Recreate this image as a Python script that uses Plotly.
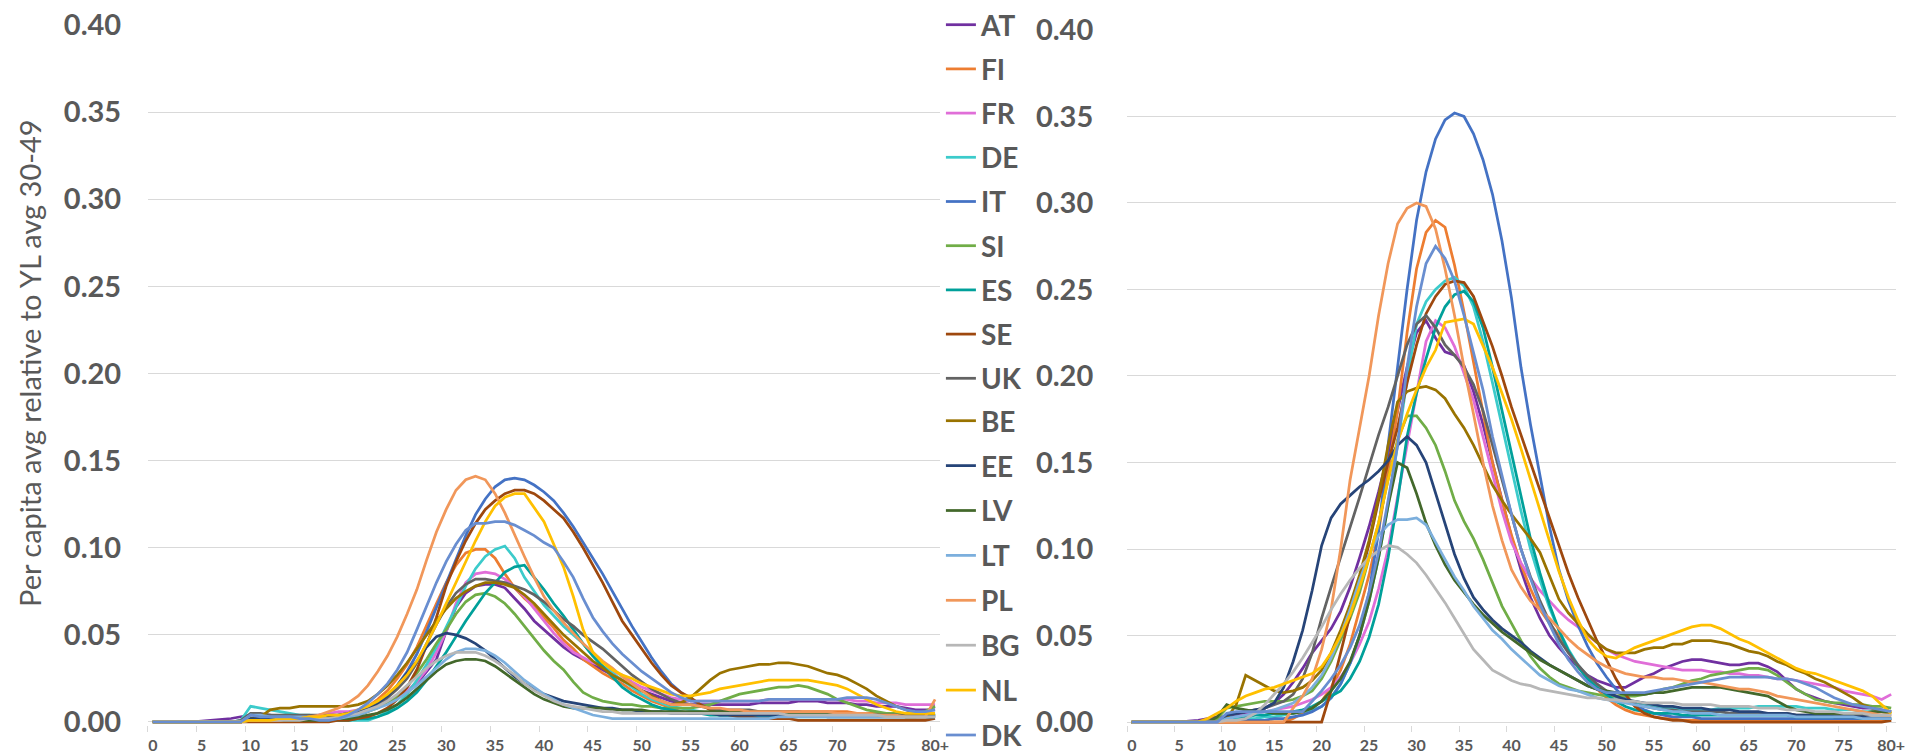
import plotly.graph_objects as go

# Age categories (single years, last one is open-ended "80+")
AGES = list(range(81))
TICK_AGES = [0, 5, 10, 15, 20, 25, 30, 35, 40, 45, 50, 55, 60, 65, 70, 75, 80]
TICK_TEXT = ["0", "5", "10", "15", "20", "25", "30", "35", "40", "45", "50",
             "55", "60", "65", "70", "75", "80+"]
Y_TICKS = [0.0, 0.05, 0.10, 0.15, 0.20, 0.25, 0.30, 0.35, 0.40]

COUNTRIES = ["AT", "FI", "FR", "DE", "IT", "SI", "ES", "SE", "UK",
             "BE", "EE", "LV", "LT", "PL", "BG", "NL", "DK"]
# the legend column is split in two blocks so it never needs scrolling
LEGEND_BLOCK = {c: ("legend" if i < 9 else "legend2") for i, c in enumerate(COUNTRIES)}

COLORS = {
    "AT": "#7030A0", "FI": "#ED7D31", "FR": "#E06ED8", "DE": "#3CCBCB",
    "IT": "#4472C4", "SI": "#70AD47", "ES": "#00A09A", "SE": "#9E480E",
    "UK": "#636363", "BE": "#997300", "EE": "#264478", "LV": "#43682B",
    "LT": "#7CAFDD", "PL": "#F1975A", "BG": "#B7B7B7", "NL": "#FFC000",
    "DK": "#698ED0",
}

# ---- left panel: per capita values by age ----
AT_L = [0, 0, 0, 0, 0, 0.0005, 0.001, 0.0015, 0.002, 0.003,
        0.004, 0.004, 0.004, 0.003, 0.003, 0.003, 0.003, 0.003, 0.003, 0.003,
        0.003, 0.004, 0.006, 0.009, 0.012, 0.015, 0.018, 0.022, 0.029, 0.036,
        0.052, 0.066, 0.074, 0.078, 0.079, 0.079, 0.077, 0.071, 0.065, 0.058,
        0.053, 0.048, 0.043, 0.039, 0.036, 0.033, 0.030, 0.027, 0.024, 0.021,
        0.018, 0.016, 0.014, 0.012, 0.011, 0.010, 0.010, 0.010, 0.010, 0.010,
        0.010, 0.010, 0.011, 0.011, 0.011, 0.011, 0.012, 0.012, 0.012, 0.011,
        0.011, 0.011, 0.010, 0.010, 0.009, 0.009, 0.009, 0.008, 0.007, 0.007, 0.007]
FI_L = [0, 0, 0, 0, 0, 0, 0, 0, 0, 0,
        0.002, 0.002, 0.002, 0.002, 0.002, 0.002, 0.002, 0.002, 0.002, 0.003,
        0.004, 0.006, 0.009, 0.013, 0.018, 0.025, 0.033, 0.043, 0.055, 0.068,
        0.080, 0.090, 0.097, 0.099, 0.099, 0.094, 0.085, 0.077, 0.071, 0.066,
        0.060, 0.054, 0.047, 0.042, 0.036, 0.032, 0.028, 0.025, 0.022, 0.018,
        0.015, 0.012, 0.010, 0.008, 0.006, 0.005, 0.005, 0.005, 0.005, 0.005,
        0.005, 0.005, 0.005, 0.006, 0.006, 0.006, 0.006, 0.006, 0.006, 0.006,
        0.006, 0.006, 0.005, 0.005, 0.005, 0.004, 0.004, 0.003, 0.003, 0.003, 0.003]
FR_L = [0, 0, 0, 0, 0, 0, 0, 0, 0, 0,
        0.002, 0.002, 0.002, 0.002, 0.002, 0.002, 0.003, 0.004, 0.005, 0.006,
        0.006, 0.007, 0.008, 0.010, 0.012, 0.014, 0.018, 0.023, 0.030, 0.040,
        0.052, 0.068, 0.080, 0.085, 0.086, 0.085, 0.082, 0.077, 0.072, 0.065,
        0.058, 0.051, 0.045, 0.040, 0.037, 0.034, 0.032, 0.029, 0.027, 0.023,
        0.020, 0.018, 0.016, 0.014, 0.013, 0.012, 0.012, 0.012, 0.012, 0.012,
        0.012, 0.012, 0.012, 0.013, 0.013, 0.013, 0.013, 0.013, 0.013, 0.013,
        0.013, 0.013, 0.012, 0.012, 0.011, 0.011, 0.011, 0.010, 0.010, 0.010, 0.010]
DE_L = [0, 0, 0, 0, 0, 0, 0, 0, 0, 0.001,
        0.009, 0.008, 0.007, 0.006, 0.005, 0.004, 0.004, 0.003, 0.002, 0.001,
        0.001, 0.001, 0.001, 0.003, 0.006, 0.010, 0.016, 0.024, 0.033, 0.043,
        0.055, 0.066, 0.078, 0.088, 0.095, 0.099, 0.101, 0.094, 0.083, 0.075,
        0.067, 0.061, 0.055, 0.050, 0.045, 0.038, 0.032, 0.028, 0.024, 0.020,
        0.016, 0.013, 0.011, 0.009, 0.008, 0.007, 0.006, 0.005, 0.004, 0.004,
        0.003, 0.003, 0.003, 0.003, 0.003, 0.003, 0.003, 0.003, 0.003, 0.003,
        0.003, 0.003, 0.003, 0.003, 0.003, 0.003, 0.003, 0.003, 0.003, 0.004, 0.005]
IT_L = [0, 0, 0, 0, 0, 0, 0, 0, 0, 0,
        0.002, 0.002, 0.002, 0.002, 0.002, 0.002, 0.002, 0.002, 0.003, 0.004,
        0.005, 0.006, 0.008, 0.011, 0.015, 0.021, 0.029, 0.039, 0.052, 0.066,
        0.080, 0.094, 0.107, 0.119, 0.128, 0.135, 0.139, 0.140, 0.139, 0.136,
        0.132, 0.127, 0.120, 0.112, 0.103, 0.094, 0.085, 0.075, 0.065, 0.055,
        0.046, 0.037, 0.029, 0.022, 0.017, 0.013, 0.010, 0.008, 0.006, 0.005,
        0.004, 0.004, 0.004, 0.004, 0.004, 0.004, 0.004, 0.004, 0.004, 0.004,
        0.004, 0.004, 0.004, 0.004, 0.004, 0.004, 0.004, 0.004, 0.004, 0.004, 0.004]
SI_L = [0, 0, 0, 0, 0, 0, 0, 0, 0, 0,
        0.002, 0.002, 0.002, 0.002, 0.002, 0.002, 0.002, 0.002, 0.002, 0.002,
        0.003, 0.004, 0.006, 0.008, 0.011, 0.015, 0.020, 0.028, 0.036, 0.045,
        0.053, 0.062, 0.069, 0.073, 0.074, 0.072, 0.068, 0.062, 0.055, 0.048,
        0.041, 0.035, 0.030, 0.023, 0.017, 0.014, 0.012, 0.011, 0.010, 0.010,
        0.009, 0.009, 0.008, 0.008, 0.008, 0.008, 0.009, 0.010, 0.012, 0.014,
        0.016, 0.017, 0.018, 0.019, 0.020, 0.020, 0.021, 0.020, 0.018, 0.016,
        0.013, 0.011, 0.009, 0.007, 0.006, 0.005, 0.005, 0.005, 0.005, 0.006, 0.009]
ES_L = [0, 0, 0, 0, 0, 0, 0, 0, 0, 0,
        0.001, 0.001, 0.001, 0.001, 0.001, 0.001, 0.001, 0.001, 0.001, 0.001,
        0.001, 0.002, 0.002, 0.003, 0.005, 0.008, 0.012, 0.017, 0.024, 0.032,
        0.040, 0.049, 0.058, 0.066, 0.074, 0.080, 0.086, 0.089, 0.090, 0.083,
        0.076, 0.068, 0.061, 0.053, 0.045, 0.038, 0.032, 0.026, 0.020, 0.016,
        0.013, 0.010, 0.008, 0.007, 0.006, 0.005, 0.005, 0.004, 0.004, 0.004,
        0.004, 0.004, 0.004, 0.004, 0.004, 0.004, 0.004, 0.004, 0.004, 0.004,
        0.004, 0.004, 0.004, 0.004, 0.004, 0.004, 0.004, 0.004, 0.004, 0.004, 0.004]
SE_L = [0, 0, 0, 0, 0, 0, 0, 0, 0, 0,
        0, 0, 0, 0, 0, 0, 0, 0, 0, 0.001,
        0.001, 0.002, 0.003, 0.005, 0.008, 0.013, 0.020, 0.030, 0.044, 0.060,
        0.078, 0.092, 0.104, 0.114, 0.122, 0.127, 0.131, 0.133, 0.133, 0.131,
        0.127, 0.122, 0.117, 0.109, 0.100, 0.090, 0.080, 0.069, 0.058, 0.050,
        0.042, 0.034, 0.027, 0.021, 0.017, 0.014, 0.010, 0.007, 0.005, 0.004,
        0.003, 0.003, 0.002, 0.002, 0.002, 0.002, 0.001, 0.001, 0.001, 0.001,
        0.001, 0.001, 0.001, 0.001, 0.001, 0.001, 0.001, 0.001, 0.001, 0.001, 0.002]
UK_L = [0, 0, 0, 0, 0, 0, 0, 0, 0, 0.001,
        0.005, 0.005, 0.004, 0.004, 0.004, 0.004, 0.004, 0.004, 0.004, 0.004,
        0.004, 0.005, 0.007, 0.010, 0.014, 0.019, 0.025, 0.034, 0.045, 0.056,
        0.066, 0.074, 0.079, 0.082, 0.082, 0.081, 0.080, 0.078, 0.076, 0.073,
        0.069, 0.064, 0.059, 0.055, 0.050, 0.046, 0.042, 0.037, 0.032, 0.027,
        0.023, 0.019, 0.016, 0.013, 0.011, 0.010, 0.009, 0.008, 0.007, 0.007,
        0.007, 0.007, 0.006, 0.006, 0.006, 0.006, 0.006, 0.005, 0.005, 0.005,
        0.005, 0.005, 0.004, 0.004, 0.004, 0.004, 0.004, 0.004, 0.004, 0.004, 0.004]
BE_L = [0, 0, 0, 0, 0, 0, 0, 0, 0, 0,
        0.002, 0.003, 0.007, 0.008, 0.008, 0.009, 0.009, 0.009, 0.009, 0.009,
        0.009, 0.010, 0.012, 0.016, 0.021, 0.027, 0.034, 0.042, 0.050, 0.058,
        0.065, 0.071, 0.075, 0.078, 0.080, 0.080, 0.079, 0.077, 0.073, 0.068,
        0.062, 0.056, 0.050, 0.045, 0.040, 0.035, 0.031, 0.027, 0.024, 0.021,
        0.018, 0.015, 0.012, 0.010, 0.011, 0.014, 0.019, 0.024, 0.028, 0.030,
        0.031, 0.032, 0.033, 0.033, 0.034, 0.034, 0.033, 0.032, 0.030, 0.028,
        0.027, 0.025, 0.022, 0.019, 0.015, 0.012, 0.009, 0.007, 0.005, 0.004, 0.004]
EE_L = [0, 0, 0, 0, 0, 0, 0, 0, 0, 0,
        0.002, 0.002, 0.002, 0.002, 0.002, 0.002, 0.002, 0.002, 0.003, 0.004,
        0.005, 0.006, 0.008, 0.011, 0.015, 0.021, 0.028, 0.035, 0.043, 0.049,
        0.051, 0.050, 0.048, 0.045, 0.041, 0.036, 0.031, 0.026, 0.022, 0.019,
        0.016, 0.014, 0.012, 0.011, 0.010, 0.009, 0.008, 0.008, 0.007, 0.007,
        0.006, 0.006, 0.006, 0.005, 0.005, 0.005, 0.005, 0.005, 0.004, 0.004,
        0.004, 0.004, 0.004, 0.004, 0.004, 0.004, 0.004, 0.004, 0.004, 0.003,
        0.003, 0.003, 0.003, 0.003, 0.003, 0.003, 0.003, 0.003, 0.003, 0.003, 0.003]
LV_L = [0, 0, 0, 0, 0, 0, 0, 0, 0, 0,
        0.001, 0.001, 0.001, 0.001, 0.001, 0.001, 0.001, 0.001, 0.001, 0.002,
        0.002, 0.003, 0.004, 0.005, 0.007, 0.010, 0.014, 0.019, 0.024, 0.029,
        0.033, 0.035, 0.036, 0.036, 0.035, 0.032, 0.028, 0.024, 0.020, 0.016,
        0.013, 0.011, 0.009, 0.008, 0.008, 0.008, 0.008, 0.007, 0.007, 0.007,
        0.007, 0.006, 0.006, 0.006, 0.006, 0.006, 0.006, 0.006, 0.006, 0.006,
        0.006, 0.006, 0.006, 0.006, 0.006, 0.005, 0.005, 0.005, 0.005, 0.005,
        0.005, 0.005, 0.005, 0.004, 0.004, 0.004, 0.004, 0.003, 0.003, 0.003, 0.003]
LT_L = [0, 0, 0, 0, 0, 0, 0, 0, 0, 0,
        0.004, 0.004, 0.003, 0.003, 0.003, 0.003, 0.003, 0.002, 0.002, 0.002,
        0.003, 0.004, 0.006, 0.008, 0.010, 0.013, 0.017, 0.021, 0.026, 0.031,
        0.036, 0.040, 0.042, 0.042, 0.041, 0.038, 0.034, 0.029, 0.024, 0.020,
        0.016, 0.013, 0.010, 0.008, 0.006, 0.004, 0.003, 0.002, 0.002, 0.002,
        0.002, 0.002, 0.002, 0.002, 0.002, 0.002, 0.002, 0.002, 0.002, 0.002,
        0.002, 0.002, 0.002, 0.002, 0.003, 0.003, 0.003, 0.003, 0.003, 0.003,
        0.003, 0.003, 0.003, 0.003, 0.003, 0.003, 0.003, 0.003, 0.003, 0.003, 0.003]
PL_L = [0, 0, 0, 0, 0, 0, 0, 0, 0, 0,
        0.001, 0.001, 0.001, 0.001, 0.002, 0.002, 0.003, 0.004, 0.006, 0.008,
        0.011, 0.015, 0.021, 0.029, 0.038, 0.049, 0.062, 0.076, 0.093, 0.109,
        0.122, 0.133, 0.139, 0.141, 0.139, 0.131, 0.120, 0.107, 0.095, 0.083,
        0.072, 0.064, 0.057, 0.051, 0.045, 0.040, 0.035, 0.031, 0.026, 0.022,
        0.018, 0.014, 0.012, 0.010, 0.010, 0.010, 0.009, 0.008, 0.008, 0.007,
        0.007, 0.006, 0.006, 0.006, 0.006, 0.006, 0.006, 0.006, 0.006, 0.006,
        0.005, 0.005, 0.005, 0.005, 0.004, 0.004, 0.004, 0.003, 0.003, 0.003, 0.013]
BG_L = [0, 0, 0, 0, 0, 0, 0, 0, 0, 0,
        0.001, 0.001, 0.001, 0.001, 0.001, 0.001, 0.002, 0.002, 0.002, 0.003,
        0.004, 0.005, 0.007, 0.009, 0.012, 0.016, 0.021, 0.026, 0.031, 0.035,
        0.038, 0.040, 0.040, 0.040, 0.038, 0.035, 0.031, 0.027, 0.022, 0.018,
        0.015, 0.012, 0.010, 0.009, 0.008, 0.007, 0.006, 0.006, 0.005, 0.005,
        0.005, 0.005, 0.005, 0.005, 0.005, 0.005, 0.005, 0.005, 0.005, 0.005,
        0.005, 0.005, 0.005, 0.005, 0.005, 0.004, 0.004, 0.004, 0.004, 0.004,
        0.004, 0.004, 0.004, 0.004, 0.004, 0.003, 0.003, 0.003, 0.003, 0.003, 0.003]
NL_L = [0, 0, 0, 0, 0, 0, 0, 0, 0, 0,
        0.001, 0.001, 0.001, 0.002, 0.002, 0.002, 0.003, 0.003, 0.004, 0.004,
        0.005, 0.007, 0.009, 0.012, 0.016, 0.021, 0.027, 0.035, 0.045, 0.056,
        0.068, 0.080, 0.092, 0.104, 0.115, 0.124, 0.129, 0.131, 0.131, 0.123,
        0.115, 0.102, 0.089, 0.072, 0.053, 0.040, 0.034, 0.030, 0.027, 0.025,
        0.022, 0.020, 0.018, 0.016, 0.015, 0.015, 0.016, 0.017, 0.019, 0.020,
        0.021, 0.022, 0.023, 0.024, 0.024, 0.024, 0.024, 0.024, 0.023, 0.022,
        0.021, 0.019, 0.016, 0.013, 0.010, 0.008, 0.006, 0.005, 0.005, 0.005, 0.005]
DK_L = [0, 0, 0, 0, 0, 0, 0, 0, 0, 0,
        0.004, 0.003, 0.003, 0.003, 0.003, 0.002, 0.002, 0.001, 0.001, 0.002,
        0.004, 0.007, 0.011, 0.016, 0.022, 0.030, 0.040, 0.053, 0.067, 0.080,
        0.092, 0.102, 0.110, 0.114, 0.114, 0.115, 0.115, 0.113, 0.110, 0.107,
        0.103, 0.100, 0.092, 0.083, 0.071, 0.060, 0.052, 0.045, 0.039, 0.034,
        0.029, 0.025, 0.021, 0.017, 0.014, 0.012, 0.012, 0.012, 0.012, 0.012,
        0.012, 0.012, 0.012, 0.013, 0.013, 0.013, 0.013, 0.013, 0.013, 0.013,
        0.013, 0.014, 0.014, 0.014, 0.013, 0.011, 0.009, 0.007, 0.006, 0.006, 0.007]

# ---- right panel: per capita values by age ----
AT_R = [0, 0, 0, 0, 0, 0, 0.0005, 0.001, 0.002, 0.003,
        0.003, 0.004, 0.005, 0.006, 0.008, 0.011, 0.016, 0.023, 0.031, 0.040,
        0.047, 0.054, 0.064, 0.078, 0.095, 0.113, 0.133, 0.155, 0.180, 0.205,
        0.225, 0.232, 0.222, 0.214, 0.212, 0.206, 0.191, 0.172, 0.150, 0.128,
        0.107, 0.088, 0.072, 0.060, 0.050, 0.043, 0.037, 0.032, 0.027, 0.024,
        0.022, 0.020, 0.020, 0.023, 0.026, 0.028, 0.031, 0.033, 0.035, 0.036,
        0.036, 0.035, 0.034, 0.033, 0.033, 0.034, 0.034, 0.032, 0.029, 0.024,
        0.019, 0.016, 0.014, 0.012, 0.011, 0.010, 0.009, 0.008, 0.008, 0.007, 0.006]
FI_R = [0, 0, 0, 0, 0, 0, 0, 0, 0, 0,
        0, 0, 0, 0, 0, 0, 0, 0.002, 0.005, 0.008,
        0.012, 0.020, 0.030, 0.045, 0.065, 0.085, 0.110, 0.145, 0.180, 0.225,
        0.262, 0.283, 0.290, 0.286, 0.264, 0.237, 0.208, 0.178, 0.150, 0.128,
        0.108, 0.091, 0.077, 0.065, 0.057, 0.050, 0.041, 0.032, 0.025, 0.019,
        0.014, 0.010, 0.007, 0.005, 0.004, 0.003, 0.002, 0.002, 0.001, 0.001,
        0.001, 0.001, 0.001, 0.001, 0.001, 0.001, 0.001, 0.001, 0.001, 0.001,
        0.001, 0.001, 0.001, 0.001, 0.001, 0.001, 0.001, 0.001, 0.001, 0.001, 0.001]
FR_R = [0, 0, 0, 0, 0, 0, 0, 0, 0, 0,
        0.002, 0.003, 0.004, 0.005, 0.006, 0.007, 0.008, 0.009, 0.011, 0.013,
        0.016, 0.020, 0.026, 0.034, 0.045, 0.058, 0.077, 0.100, 0.130, 0.160,
        0.192, 0.220, 0.232, 0.228, 0.217, 0.202, 0.186, 0.165, 0.143, 0.122,
        0.104, 0.092, 0.083, 0.076, 0.070, 0.064, 0.059, 0.055, 0.050, 0.046,
        0.042, 0.039, 0.037, 0.035, 0.034, 0.033, 0.032, 0.031, 0.030, 0.030,
        0.030, 0.029, 0.029, 0.028, 0.028, 0.027, 0.027, 0.026, 0.025, 0.025,
        0.024, 0.023, 0.022, 0.021, 0.020, 0.018, 0.017, 0.016, 0.015, 0.013, 0.016]
DE_R = [0, 0, 0, 0, 0, 0, 0, 0, 0, 0,
        0.001, 0.002, 0.002, 0.002, 0.003, 0.003, 0.004, 0.005, 0.006, 0.007,
        0.009, 0.014, 0.022, 0.034, 0.050, 0.070, 0.095, 0.125, 0.160, 0.198,
        0.230, 0.243, 0.250, 0.255, 0.257, 0.252, 0.240, 0.220, 0.196, 0.171,
        0.146, 0.122, 0.100, 0.082, 0.066, 0.053, 0.042, 0.033, 0.026, 0.021,
        0.017, 0.014, 0.012, 0.011, 0.010, 0.009, 0.008, 0.008, 0.007, 0.007,
        0.007, 0.007, 0.008, 0.008, 0.008, 0.008, 0.009, 0.009, 0.009, 0.009,
        0.009, 0.008, 0.008, 0.008, 0.007, 0.007, 0.007, 0.006, 0.006, 0.006, 0.005]
IT_R = [0, 0, 0, 0, 0, 0, 0, 0, 0, 0,
        0.001, 0.001, 0.001, 0.001, 0.001, 0.002, 0.002, 0.003, 0.004, 0.006,
        0.009, 0.014, 0.022, 0.034, 0.050, 0.075, 0.110, 0.160, 0.205, 0.250,
        0.290, 0.318, 0.337, 0.348, 0.352, 0.350, 0.340, 0.325, 0.305, 0.278,
        0.245, 0.205, 0.172, 0.142, 0.113, 0.088, 0.070, 0.056, 0.044, 0.034,
        0.026, 0.019, 0.014, 0.010, 0.007, 0.005, 0.004, 0.003, 0.003, 0.003,
        0.002, 0.002, 0.002, 0.002, 0.002, 0.002, 0.002, 0.002, 0.002, 0.002,
        0.002, 0.002, 0.002, 0.002, 0.002, 0.002, 0.002, 0.002, 0.002, 0.002, 0.002]
SI_R = [0, 0, 0, 0, 0, 0, 0, 0, 0, 0.002,
        0.008, 0.009, 0.010, 0.011, 0.012, 0.012, 0.012, 0.013, 0.015, 0.018,
        0.025, 0.035, 0.047, 0.060, 0.075, 0.095, 0.115, 0.140, 0.163, 0.177,
        0.177, 0.170, 0.160, 0.145, 0.128, 0.116, 0.106, 0.094, 0.080, 0.067,
        0.057, 0.047, 0.038, 0.031, 0.026, 0.022, 0.020, 0.018, 0.017, 0.016,
        0.015, 0.015, 0.015, 0.015, 0.016, 0.017, 0.019, 0.020, 0.022, 0.024,
        0.025, 0.027, 0.028, 0.029, 0.030, 0.031, 0.031, 0.030, 0.027, 0.023,
        0.019, 0.016, 0.013, 0.012, 0.011, 0.011, 0.010, 0.010, 0.009, 0.009, 0.008]
ES_R = [0, 0, 0, 0, 0, 0, 0, 0, 0, 0,
        0.002, 0.003, 0.003, 0.004, 0.004, 0.005, 0.005, 0.006, 0.007, 0.009,
        0.012, 0.015, 0.018, 0.025, 0.035, 0.049, 0.068, 0.095, 0.128, 0.165,
        0.190, 0.210, 0.228, 0.240, 0.247, 0.249, 0.243, 0.228, 0.205, 0.180,
        0.155, 0.130, 0.106, 0.086, 0.068, 0.053, 0.041, 0.032, 0.025, 0.020,
        0.016, 0.012, 0.009, 0.007, 0.006, 0.005, 0.005, 0.005, 0.004, 0.004,
        0.004, 0.004, 0.004, 0.004, 0.004, 0.004, 0.004, 0.004, 0.004, 0.004,
        0.003, 0.003, 0.003, 0.003, 0.003, 0.003, 0.003, 0.002, 0.002, 0.002, 0.002]
SE_R = [0, 0, 0, 0, 0, 0, 0, 0, 0, 0,
        0, 0, 0, 0, 0, 0, 0, 0, 0, 0,
        0, 0.018, 0.040, 0.062, 0.082, 0.103, 0.128, 0.150, 0.170, 0.196,
        0.218, 0.236, 0.246, 0.253, 0.255, 0.254, 0.246, 0.232, 0.217, 0.200,
        0.182, 0.166, 0.150, 0.133, 0.117, 0.101, 0.086, 0.072, 0.059, 0.047,
        0.036, 0.025, 0.016, 0.009, 0.005, 0.003, 0.002, 0.001, 0.001, 0,
        0, 0, 0, 0, 0, 0, 0, 0, 0, 0,
        0, 0, 0, 0, 0, 0, 0, 0, 0, 0, 0.001]
UK_R = [0, 0, 0, 0, 0, 0, 0, 0, 0, 0,
        0.004, 0.005, 0.006, 0.007, 0.008, 0.010, 0.012, 0.016, 0.025, 0.040,
        0.060, 0.078, 0.095, 0.112, 0.130, 0.148, 0.166, 0.182, 0.200, 0.218,
        0.230, 0.235, 0.228, 0.218, 0.212, 0.205, 0.195, 0.180, 0.160, 0.140,
        0.120, 0.100, 0.084, 0.070, 0.058, 0.048, 0.040, 0.033, 0.027, 0.022,
        0.018, 0.015, 0.012, 0.010, 0.009, 0.008, 0.007, 0.007, 0.006, 0.006,
        0.006, 0.006, 0.006, 0.005, 0.005, 0.005, 0.005, 0.005, 0.005, 0.005,
        0.004, 0.004, 0.004, 0.004, 0.004, 0.004, 0.004, 0.004, 0.004, 0.004, 0.004]
BE_R = [0, 0, 0, 0, 0, 0, 0, 0, 0, 0,
        0.002, 0.010, 0.027, 0.024, 0.021, 0.018, 0.017, 0.018, 0.020, 0.024,
        0.030, 0.040, 0.053, 0.068, 0.085, 0.105, 0.130, 0.160, 0.185, 0.191,
        0.193, 0.194, 0.192, 0.187, 0.178, 0.170, 0.160, 0.148, 0.137, 0.128,
        0.120, 0.113, 0.106, 0.098, 0.085, 0.071, 0.063, 0.057, 0.051, 0.046,
        0.042, 0.040, 0.040, 0.040, 0.042, 0.043, 0.043, 0.045, 0.045, 0.047,
        0.047, 0.047, 0.046, 0.045, 0.043, 0.041, 0.040, 0.038, 0.035, 0.033,
        0.030, 0.028, 0.025, 0.023, 0.020, 0.017, 0.014, 0.010, 0.008, 0.006, 0.005]
EE_R = [0, 0, 0, 0, 0, 0, 0, 0, 0, 0,
        0.004, 0.005, 0.006, 0.007, 0.008, 0.011, 0.020, 0.035, 0.053, 0.076,
        0.102, 0.118, 0.126, 0.131, 0.136, 0.140, 0.145, 0.151, 0.160, 0.165,
        0.160, 0.150, 0.132, 0.114, 0.097, 0.083, 0.072, 0.065, 0.059, 0.054,
        0.050, 0.046, 0.041, 0.037, 0.033, 0.030, 0.027, 0.024, 0.021, 0.019,
        0.017, 0.015, 0.013, 0.012, 0.011, 0.010, 0.009, 0.009, 0.008, 0.008,
        0.008, 0.007, 0.007, 0.007, 0.006, 0.006, 0.006, 0.005, 0.005, 0.005,
        0.004, 0.004, 0.004, 0.004, 0.003, 0.003, 0.003, 0.003, 0.002, 0.002, 0.002]
LV_R = [0, 0, 0, 0, 0, 0, 0, 0, 0, 0.003,
        0.010, 0.008, 0.007, 0.006, 0.006, 0.005, 0.005, 0.005, 0.006, 0.008,
        0.012, 0.018, 0.025, 0.035, 0.050, 0.070, 0.095, 0.125, 0.150, 0.147,
        0.132, 0.115, 0.102, 0.091, 0.082, 0.075, 0.068, 0.062, 0.057, 0.052,
        0.048, 0.044, 0.040, 0.036, 0.033, 0.030, 0.027, 0.024, 0.021, 0.019,
        0.018, 0.017, 0.016, 0.016, 0.016, 0.017, 0.017, 0.018, 0.019, 0.020,
        0.020, 0.020, 0.020, 0.019, 0.018, 0.017, 0.016, 0.015, 0.012, 0.009,
        0.007, 0.006, 0.005, 0.005, 0.005, 0.005, 0.005, 0.005, 0.006, 0.006, 0.006]
LT_R = [0, 0, 0, 0, 0, 0, 0, 0, 0, 0,
        0.002, 0.003, 0.004, 0.005, 0.006, 0.007, 0.009, 0.011, 0.015, 0.020,
        0.027, 0.037, 0.050, 0.065, 0.082, 0.097, 0.108, 0.114, 0.117, 0.117,
        0.118, 0.114, 0.104, 0.094, 0.084, 0.076, 0.067, 0.060, 0.053, 0.048,
        0.042, 0.037, 0.032, 0.027, 0.024, 0.021, 0.019, 0.018, 0.016, 0.014,
        0.013, 0.012, 0.011, 0.010, 0.009, 0.008, 0.007, 0.006, 0.006, 0.005,
        0.005, 0.005, 0.004, 0.004, 0.004, 0.004, 0.004, 0.004, 0.004, 0.004,
        0.003, 0.003, 0.003, 0.003, 0.003, 0.003, 0.003, 0.002, 0.002, 0.002, 0.002]
PL_R = [0, 0, 0, 0, 0, 0, 0, 0, 0, 0,
        0, 0, 0, 0, 0, 0, 0, 0.008, 0.015, 0.025,
        0.042, 0.065, 0.100, 0.140, 0.170, 0.200, 0.235, 0.265, 0.288, 0.297,
        0.300, 0.298, 0.285, 0.262, 0.235, 0.205, 0.178, 0.150, 0.125, 0.105,
        0.088, 0.078, 0.070, 0.065, 0.060, 0.054, 0.048, 0.043, 0.039, 0.035,
        0.032, 0.030, 0.028, 0.027, 0.026, 0.026, 0.025, 0.025, 0.024, 0.023,
        0.023, 0.022, 0.021, 0.020, 0.019, 0.019, 0.018, 0.017, 0.015, 0.014,
        0.013, 0.012, 0.011, 0.010, 0.009, 0.008, 0.007, 0.006, 0.005, 0.004, 0.004]
BG_R = [0, 0, 0, 0, 0, 0, 0, 0, 0, 0,
        0.001, 0.001, 0.002, 0.005, 0.010, 0.016, 0.022, 0.029, 0.037, 0.046,
        0.055, 0.065, 0.074, 0.082, 0.089, 0.095, 0.099, 0.102, 0.101, 0.097,
        0.092, 0.085, 0.077, 0.069, 0.060, 0.051, 0.042, 0.036, 0.030, 0.027,
        0.024, 0.022, 0.021, 0.019, 0.018, 0.017, 0.016, 0.015, 0.014, 0.014,
        0.013, 0.013, 0.012, 0.012, 0.011, 0.011, 0.011, 0.011, 0.010, 0.010,
        0.010, 0.010, 0.009, 0.009, 0.009, 0.009, 0.008, 0.008, 0.008, 0.007,
        0.007, 0.007, 0.006, 0.006, 0.006, 0.005, 0.005, 0.005, 0.004, 0.004, 0.004]
NL_R = [0, 0, 0, 0, 0, 0, 0, 0, 0.002, 0.005,
        0.008, 0.012, 0.015, 0.017, 0.019, 0.020, 0.022, 0.024, 0.026, 0.028,
        0.032, 0.040, 0.050, 0.062, 0.078, 0.095, 0.115, 0.140, 0.162, 0.178,
        0.192, 0.205, 0.215, 0.231, 0.232, 0.233, 0.230, 0.218, 0.205, 0.190,
        0.175, 0.158, 0.140, 0.122, 0.104, 0.087, 0.072, 0.059, 0.048, 0.042,
        0.038, 0.037, 0.040, 0.043, 0.045, 0.047, 0.049, 0.051, 0.053, 0.055,
        0.056, 0.056, 0.054, 0.051, 0.048, 0.046, 0.043, 0.040, 0.037, 0.034,
        0.031, 0.029, 0.028, 0.026, 0.024, 0.022, 0.020, 0.018, 0.015, 0.010, 0.005]
DK_R = [0, 0, 0, 0, 0, 0, 0, 0, 0, 0,
        0.005, 0.006, 0.006, 0.006, 0.006, 0.006, 0.006, 0.006, 0.006, 0.012,
        0.018, 0.025, 0.033, 0.043, 0.056, 0.075, 0.098, 0.128, 0.160, 0.205,
        0.240, 0.265, 0.275, 0.268, 0.255, 0.235, 0.213, 0.192, 0.165, 0.142,
        0.120, 0.100, 0.083, 0.068, 0.056, 0.045, 0.036, 0.029, 0.023, 0.019,
        0.017, 0.017, 0.017, 0.017, 0.017, 0.018, 0.019, 0.020, 0.021, 0.022,
        0.023, 0.024, 0.025, 0.026, 0.026, 0.026, 0.026, 0.026, 0.025, 0.025,
        0.024, 0.022, 0.020, 0.017, 0.014, 0.012, 0.010, 0.009, 0.008, 0.007, 0.006]

LEFT = {"AT": AT_L, "FI": FI_L, "FR": FR_L, "DE": DE_L, "IT": IT_L, "SI": SI_L,
        "ES": ES_L, "SE": SE_L, "UK": UK_L, "BE": BE_L, "EE": EE_L, "LV": LV_L,
        "LT": LT_L, "PL": PL_L, "BG": BG_L, "NL": NL_L, "DK": DK_L}
RIGHT = {"AT": AT_R, "FI": FI_R, "FR": FR_R, "DE": DE_R, "IT": IT_R, "SI": SI_R,
         "ES": ES_R, "SE": SE_R, "UK": UK_R, "BE": BE_R, "EE": EE_R, "LV": LV_R,
         "LT": LT_R, "PL": PL_R, "BG": BG_R, "NL": NL_R, "DK": DK_R}

FONT = "Lato, 'Open Sans', sans-serif"
TEXT_GREY = "#595959"
GRID = "#D9D9D9"
CLEAR = "rgba(0,0,0,0)"
LINE_W = 2.75

fig = go.Figure()
for c in COUNTRIES:
    fig.add_trace(go.Scatter(
        x=AGES, y=LEFT[c], mode="lines", name=c, legendgroup=c,
        legend=LEGEND_BLOCK[c],
        line=dict(color=COLORS[c], width=LINE_W), xaxis="x", yaxis="y"))
for c in COUNTRIES:
    fig.add_trace(go.Scatter(
        x=AGES, y=RIGHT[c], mode="lines", name=c, legendgroup=c, showlegend=False,
        legend=LEGEND_BLOCK[c],
        line=dict(color=COLORS[c], width=LINE_W), xaxis="x2", yaxis="y2"))

boundary_ticks = [a - 0.5 for a in TICK_AGES]

def x_axis(domain, anchor):
    # invisible major ticks push the labels down; visible ticks sit on category boundaries
    return dict(
        domain=domain, anchor=anchor, range=[-0.5, 80.5], automargin=False,
        tickmode="array", tickvals=TICK_AGES, ticktext=TICK_TEXT,
        ticks="outside", ticklen=5, tickcolor=CLEAR,
        showgrid=False, zeroline=False, showline=False,
        tickfont=dict(family=FONT, size=16, color=TEXT_GREY, weight="bold"),
        minor=dict(tickmode="array", tickvals=boundary_ticks, ticks="outside",
                   ticklen=6, tickwidth=1, tickcolor=GRID, showgrid=False),
    )

def y_axis(domain, anchor, pad):
    # invisible ticks keep the labels clear of the plot edge
    return dict(
        domain=domain, anchor=anchor, range=[-0.002, 0.40], automargin=False,
        tickmode="array", tickvals=Y_TICKS, tickformat=".2f",
        ticks="outside", ticklen=pad, tickcolor=CLEAR,
        showgrid=True, gridcolor=GRID, gridwidth=1,
        zeroline=True, zerolinecolor=GRID, zerolinewidth=1, showline=False,
        tickfont=dict(family=FONT, size=29, color=TEXT_GREY, weight="bold"),
    )

def legend_style(gap):
    return dict(
        xanchor="left", yanchor="top",
        font=dict(family=FONT, size=28, color=TEXT_GREY, weight="bold"),
        tracegroupgap=gap, bgcolor=CLEAR, itemwidth=30,
    )

fig.update_layout(
    template="none",
    width=1907, height=755,
    margin=dict(l=0, r=0, t=0, b=0, autoexpand=False),
    paper_bgcolor="white", plot_bgcolor="white",
    xaxis=x_axis([0.0776, 0.4929], "y"),
    yaxis=y_axis([0.0391, 0.9669], "x", 20),
    xaxis2=x_axis([0.5910, 0.9942], "y2"),
    yaxis2=y_axis([0.0391, 0.9603], "x2", 27),
    showlegend=True,
    legend=dict(x=0.4934, y=1.0, **legend_style(4.8)),
    legend2=dict(x=0.4934, y=1 - 396 / 755, **legend_style(5.5)),
    annotations=[dict(
        text="Per capita avg relative to YL avg 30-49",
        xref="paper", yref="paper", x=30 / 1907, y=1 - 363 / 755,
        xanchor="center", yanchor="middle", textangle=-90, showarrow=False,
        font=dict(family=FONT, size=29, color=TEXT_GREY),
    )],
)

fig.write_html("out.html")
